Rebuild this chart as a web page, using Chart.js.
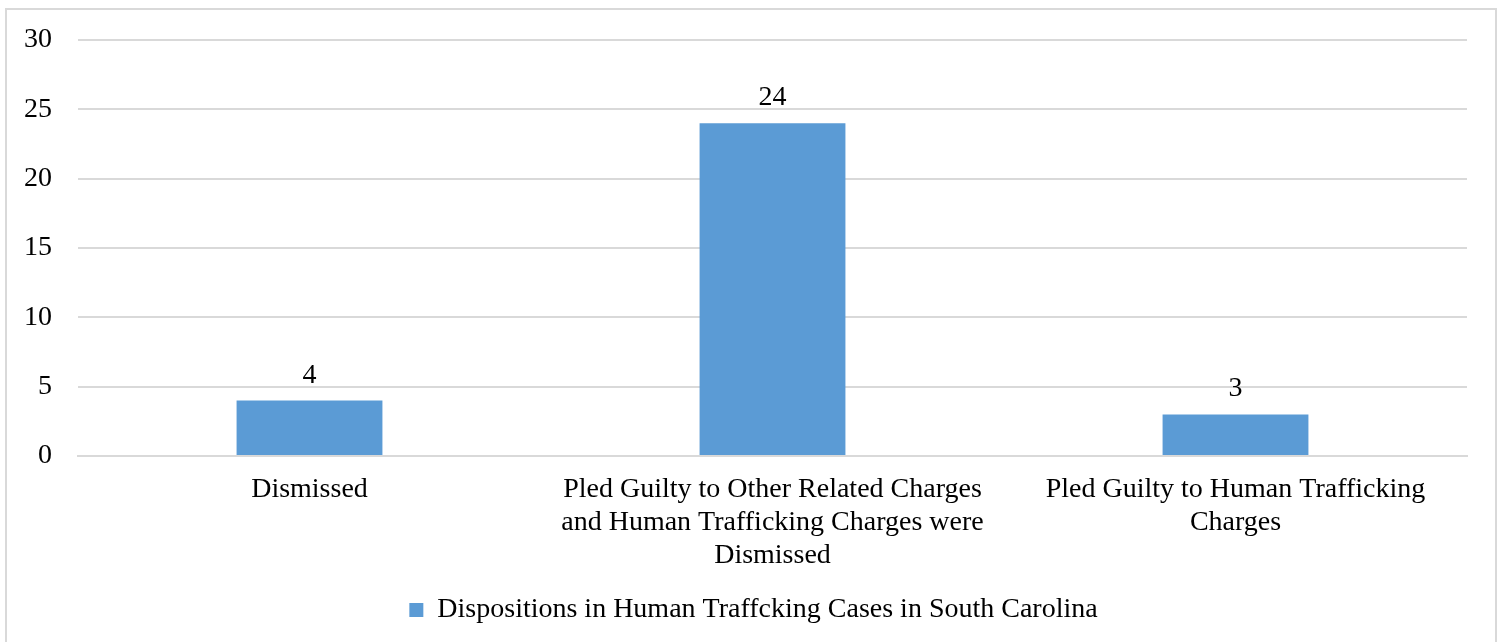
<!DOCTYPE html>
<html>
<head>
<meta charset="utf-8">
<script src="https://cdn.jsdelivr.net/npm/chart.js@4.4.1/dist/chart.umd.min.js"></script>
<style>
  html, body { margin: 0; padding: 0; background: #fff; }
  #wrap { width: 1502px; height: 642px; }
</style>
</head>
<body>
<div id="wrap"><canvas id="myChart" width="1502" height="642"></canvas></div>
<script>
// chart data
const categories = [
    ['Dismissed'],
    ['Pled Guilty to Other Related Charges', 'and Human Trafficking Charges were', 'Dismissed'],
    ['Pled Guilty to Human Trafficking', 'Charges']
];
const counts = [4, 24, 3];
const seriesName = 'Dispositions in Human Traffcking Cases in South Carolina';
const yMin = 0;
const yMax = 30;
const yStep = 5;

const FONT = '"Liberation Serif", "Times New Roman", serif';
const FONT_SIZE = 28;
const BAR_BLUE = '#5B9BD5';
const GRID = '#d9d9d9';

Chart.defaults.font.family = FONT;
Chart.defaults.color = '#000';

// outer frame like the office chart border
const framePlugin = {
    id: 'frame',
    beforeDraw(chart) {
        const ctx = chart.ctx;
        ctx.save();
        ctx.strokeStyle = GRID;
        ctx.lineWidth = 2;
        ctx.strokeRect(6, 9, 1490, 700);
        ctx.restore();
    }
};

// legend is centred on the whole frame in the original, nudge it right
const legendShift = {
    id: 'legendShift',
    afterLayout(chart) {
        const lg = chart.legend;
        if (!lg) return;
        lg.left += 20;
        lg.right += 20;
    }
};

// value labels above the bars
const valueLabels = {
    id: 'valueLabels',
    afterDatasetsDraw(chart) {
        const ctx = chart.ctx;
        const meta = chart.getDatasetMeta(0);
        ctx.save();
        ctx.font = FONT_SIZE + 'px ' + FONT;
        ctx.fillStyle = '#000';
        ctx.textAlign = 'center';
        ctx.textBaseline = 'alphabetic';
        meta.data.forEach((bar, i) => {
            ctx.fillText(String(counts[i]), bar.x, bar.y - 18);
        });
        ctx.restore();
    }
};

const ctx = document.getElementById('myChart').getContext('2d');

const chartData = {
    labels: categories,
    datasets: [{
        label: seriesName,
        data: counts,
        backgroundColor: BAR_BLUE,
        borderWidth: 0,
        barPercentage: 0.315,
        categoryPercentage: 1.0
    }]
};

const config = {
    type: 'bar',
    data: chartData,
    plugins: [framePlugin, legendShift, valueLabels],
    options: {
        responsive: false,
        animation: false,
        layout: {
            padding: { left: 0, right: 35, top: 39, bottom: 8 }
        },
        plugins: {
            legend: {
                position: 'bottom',
                labels: {
                    boxWidth: 14,
                    boxHeight: 14,
                    padding: 10,
                    color: '#000',
                    font: { size: FONT_SIZE, family: FONT }
                }
            },
            tooltip: { enabled: false }
        },
        scales: {
            y: {
                min: yMin,
                max: yMax,
                afterFit: scale => { scale.width = 78; },
                ticks: {
                    stepSize: yStep,
                    padding: 26,
                    color: '#000',
                    font: { size: FONT_SIZE, family: FONT, lineHeight: 1.0 }
                },
                grid: {
                    color: GRID,
                    lineWidth: 2,
                    drawTicks: false
                },
                border: { display: false }
            },
            x: {
                afterFit: scale => { scale.height = 130; },
                ticks: {
                    maxRotation: 0,
                    autoSkip: false,
                    padding: 17,
                    color: '#000',
                    font: { size: FONT_SIZE, family: FONT, lineHeight: 1.18 }
                },
                grid: { display: false, drawTicks: false },
                border: { display: true, color: GRID, width: 2 }
            }
        }
    }
};

window.myChart = new Chart(ctx, config);
</script>
</body>
</html>
